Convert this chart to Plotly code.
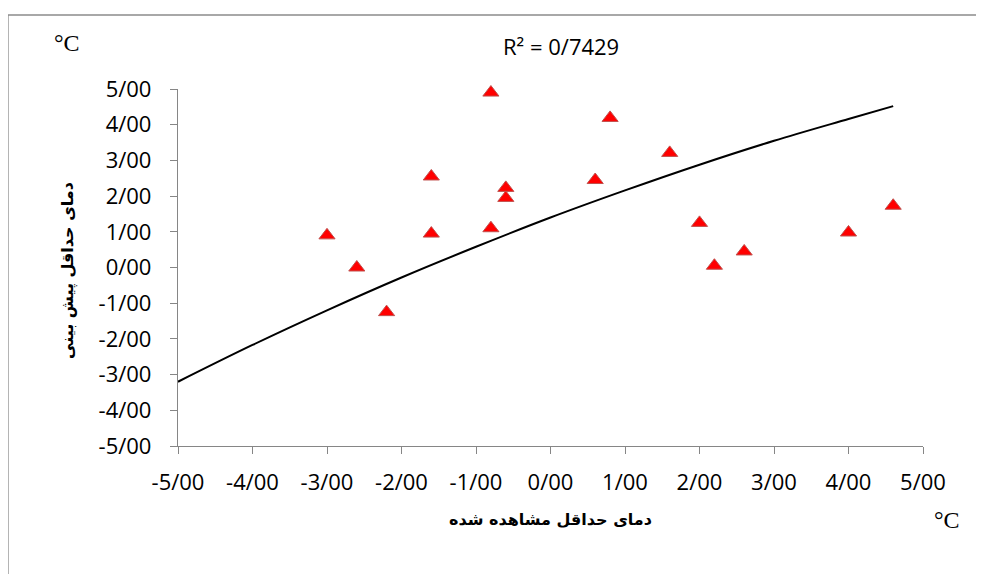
import plotly.graph_objects as go

obs_x = [-3.0, -2.6, -2.2, -1.6, -1.6, -0.8, -0.8, -0.6, -0.6, 0.6, 0.8, 1.6, 2.0, 2.2, 2.6, 4.0, 4.6]
pred_y = [0.9, 0.0, -1.25, 2.55, 0.95, 4.9, 1.1, 2.23, 1.95, 2.45, 4.19, 3.21, 1.25, 0.05, 0.45, 0.98, 1.73]

# trend line
trend_x = [-5, -4, -3, -2, -1, 0, 1, 2, 3, 4, 4.6]
trend_y = [-3.2, -2.17, -1.2, -0.28, 0.58, 1.4, 2.16, 2.88, 3.55, 4.16, 4.52]

tick_vals = [-5, -4, -3, -2, -1, 0, 1, 2, 3, 4, 5]
tick_text = ["-5/00", "-4/00", "-3/00", "-2/00", "-1/00", "0/00", "1/00", "2/00", "3/00", "4/00", "5/00"]

x_title = "دمای حداقل مشاهده شده"
y_title = "دمای حداقل پیش بینی"
r2_text = "R² = 0/7429"
unit = "°C"

W, H = 984, 574
OFF = 8  # page body margin offset
L, R, T, B = 178 - OFF, 923 - OFF, 89 - OFF, 446 - OFF

def px(x):
    return (x - OFF - L) / (R - L)

def py(y):
    return (B - (y - OFF)) / (B - T)

fig = go.Figure()
fig.add_trace(go.Scatter(
    x=trend_x, y=trend_y, mode="lines", line=dict(color="black", width=2, shape="spline"),
    hoverinfo="skip", showlegend=False, cliponaxis=False))
fig.add_trace(go.Scatter(
    x=obs_x, y=pred_y, mode="markers", cliponaxis=False,
    marker=dict(symbol="triangle-up", size=14, color="#FF0000", line=dict(color="#C0504D", width=1)),
    showlegend=False))

axis_common = dict(
    range=[-5, 5], tickvals=tick_vals, ticktext=tick_text, showgrid=False, zeroline=False,
    showline=True, linecolor="#868686", linewidth=1.3, ticks="outside", ticklen=7,
    tickcolor="#868686", tickwidth=1.3, tickfont=dict(family="Open Sans", size=22, color="black"),
    fixedrange=True)

fig.update_layout(
    width=W, height=H, paper_bgcolor="white", plot_bgcolor="white",
    margin=dict(l=L, r=W - R, t=T, b=H - B),
    xaxis=dict(**axis_common, ticklabelstandoff=9),
    yaxis=dict(**axis_common, ticklabelstandoff=14),
    shapes=[dict(type="rect", xref="paper", yref="paper",
                 x0=px(8), y0=py(15), x1=px(1100), y1=py(700),
                 line=dict(color="#8c8c8c", width=1.3), fillcolor="rgba(0,0,0,0)", layer="below")],
    annotations=[
        dict(text=r2_text, xref="paper", yref="paper", x=px(561), y=py(46), showarrow=False,
             font=dict(family="Open Sans", size=22, color="black"), xanchor="center", yanchor="middle"),
        dict(text="<b>" + x_title + "</b>", xref="paper", yref="paper", x=px(550), y=py(519),
             showarrow=False, font=dict(family="DejaVu Sans", size=16, color="black"),
             xanchor="center", yanchor="middle"),
        dict(text="<b>" + y_title + "</b>", xref="paper", yref="paper", x=px(68), y=py(271),
             showarrow=False, textangle=-90, font=dict(family="DejaVu Sans", size=16, color="black"),
             xanchor="center", yanchor="middle"),
        dict(text=unit, xref="paper", yref="paper", x=px(67), y=py(43), showarrow=False,
             font=dict(family="Liberation Serif", size=24, color="black"),
             xanchor="center", yanchor="middle"),
        dict(text=unit, xref="paper", yref="paper", x=px(947), y=py(520), showarrow=False,
             font=dict(family="Liberation Serif", size=24, color="black"),
             xanchor="center", yanchor="middle"),
    ],
)

fig.write_html("out.html")
